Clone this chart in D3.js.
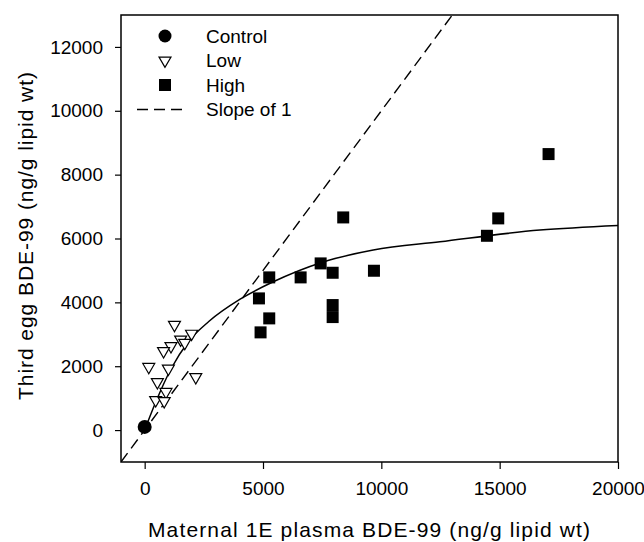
<!DOCTYPE html>
<html>
<head>
<meta charset="utf-8">
<script src="https://cdn.jsdelivr.net/npm/d3@7"></script>
<style>
  body { margin: 0; background: #fff; }
  text { font-family: "Liberation Sans", Arial, sans-serif; fill: #000; }
</style>
</head>
<body>
<div id="chart"></div>
<script>
const width = 644,
  height = 542,
  margin = { top: 15, bottom: 80, left: 121, right: 26 };

// control group
const controlX = [0];
const controlY = [100];

// low dose group
const lowX = [1259, 1981, 1521, 1694, 1111, 798, 173, 1001, 2159, 537, 900, 465, 824];
const lowY = [3298, 3019, 2837, 2731, 2631, 2474, 1979, 1926, 1660, 1503, 1196, 940, 908];

// high dose group
const highX = [8390, 5264, 6590, 7436, 7943, 9688, 4829, 5264, 4897, 7943, 7943, 17066, 14940, 14462];
const highY = [6660, 4782, 4782, 5220, 4927, 4990, 4124, 3498, 3060, 3915, 3539, 8644, 6630, 6085];

// fitted curve
const fitX = [0, 465, 1115, 1838, 2708, 4034, 5433, 7478, 9658, 12475, 16700, 20000];
const fitY = [0, 870, 1920, 2760, 3400, 4100, 4645, 5250, 5637, 5897, 6264, 6410];

// slope of 1 line
const slopeX = [-1000, 13000];

const xTicks = [0, 5000, 10000, 15000, 20000];
const yTicks = [0, 2000, 4000, 6000, 8000, 10000, 12000];

const legendLabels = ["Control", "Low", "High", "Slope of 1"];

const svg = d3.select("#chart")
  .append("svg")
  .attr("width", width)
  .attr("height", height);

const x = d3.scaleLinear()
  .domain([-1000, 20000])
  .range([margin.left, width - margin.right]);

const y = d3.scaleLinear()
  .domain([-1000, 13000])
  .range([height - margin.bottom, margin.top]);

svg.append("clipPath")
  .attr("id", "clip")
  .append("rect")
  .attr("x", margin.left)
  .attr("y", margin.top)
  .attr("width", width - margin.left - margin.right)
  .attr("height", height - margin.top - margin.bottom);

const plot = svg.append("g").attr("clip-path", "url(#clip)");

// slope of 1
plot.append("line")
  .attr("x1", x(slopeX[0]))
  .attr("y1", y(slopeX[0]))
  .attr("x2", x(slopeX[1]))
  .attr("y2", y(slopeX[1]))
  .attr("stroke", "#000")
  .attr("stroke-width", 1.4)
  .attr("stroke-dasharray", "11,6");

// fitted curve
const line = d3.line()
  .x(d => x(d[0]))
  .y(d => y(d[1]))
  .curve(d3.curveMonotoneX);

plot.append("path")
  .datum(d3.zip(fitX, fitY))
  .attr("d", line)
  .attr("fill", "none")
  .attr("stroke", "#000")
  .attr("stroke-width", 1.5);

// markers
const tri = d3.symbol().type(d3.symbolTriangle).size(62);

plot.selectAll(".low")
  .data(d3.zip(lowX, lowY))
  .join("path")
  .attr("class", "low")
  .attr("d", tri)
  .attr("transform", d => `translate(${x(d[0])},${y(d[1])}) rotate(180)`)
  .attr("fill", "#fff")
  .attr("stroke", "#000")
  .attr("stroke-width", 1.2);

plot.selectAll(".high")
  .data(d3.zip(highX, highY))
  .join("rect")
  .attr("class", "high")
  .attr("x", d => x(d[0]) - 6)
  .attr("y", d => y(d[1]) - 6)
  .attr("width", 12)
  .attr("height", 12)
  .attr("fill", "#000");

plot.selectAll(".control")
  .data(d3.zip(controlX, controlY))
  .join("circle")
  .attr("class", "control")
  .attr("cx", d => x(d[0]))
  .attr("cy", d => y(d[1]))
  .attr("r", 7)
  .attr("fill", "#000");

// axes
svg.append("g")
  .attr("transform", `translate(0,${height - margin.bottom})`)
  .call(d3.axisBottom(x).tickValues(xTicks).tickSize(7).tickPadding(13).tickFormat(d3.format("d")))
  .call(g => g.select(".domain").remove())
  .call(g => g.selectAll("text").attr("font-size", 19).style("font-family", "Liberation Sans, Arial, sans-serif"));

svg.append("g")
  .attr("transform", `translate(${margin.left},0)`)
  .call(d3.axisLeft(y).tickValues(yTicks).tickSize(6).tickPadding(12).tickFormat(d3.format("d")))
  .call(g => g.select(".domain").remove())
  .call(g => g.selectAll("text").attr("font-size", 19).style("font-family", "Liberation Sans, Arial, sans-serif"));

svg.selectAll(".tick line").attr("stroke-width", 1.2);

// frame
svg.append("rect")
  .attr("x", margin.left)
  .attr("y", margin.top)
  .attr("width", width - margin.left - margin.right)
  .attr("height", height - margin.top - margin.bottom)
  .attr("fill", "none")
  .attr("stroke", "#000")
  .attr("stroke-width", 1.5);

// axis titles
svg.append("text")
  .attr("x", 369)
  .attr("y", 537)
  .attr("text-anchor", "middle")
  .attr("font-size", 21)
  .attr("textLength", 442)
  .attr("lengthAdjust", "spacing")
  .text("Maternal 1E plasma BDE-99 (ng/g lipid wt)");

svg.append("text")
  .attr("transform", "translate(33,236) rotate(-90)")
  .attr("text-anchor", "middle")
  .attr("font-size", 21)
  .attr("textLength", 328)
  .attr("lengthAdjust", "spacing")
  .text("Third egg BDE-99 (ng/g lipid wt)");

// legend
const legend = svg.append("g").attr("transform", "translate(165,36)");
const rowH = 24.5;

legend.append("circle").attr("cx", 0).attr("cy", 0).attr("r", 6.5).attr("fill", "#000");
legend.append("path")
  .attr("d", tri)
  .attr("transform", `translate(0,${rowH}) rotate(180)`)
  .attr("fill", "#fff").attr("stroke", "#000").attr("stroke-width", 1.2);
legend.append("rect")
  .attr("x", -6).attr("y", rowH * 2 - 6).attr("width", 12).attr("height", 12).attr("fill", "#000");
legend.append("line")
  .attr("x1", -28).attr("x2", 22)
  .attr("y1", rowH * 3).attr("y2", rowH * 3)
  .attr("stroke", "#000").attr("stroke-width", 1.4).attr("stroke-dasharray", "11,6");

legend.selectAll(".lab")
  .data(legendLabels)
  .join("text")
  .attr("class", "lab")
  .attr("x", 41)
  .attr("y", (d, i) => i * rowH)
  .attr("dy", "0.35em")
  .attr("font-size", 19)
  .text(d => d);
</script>
</body>
</html>
